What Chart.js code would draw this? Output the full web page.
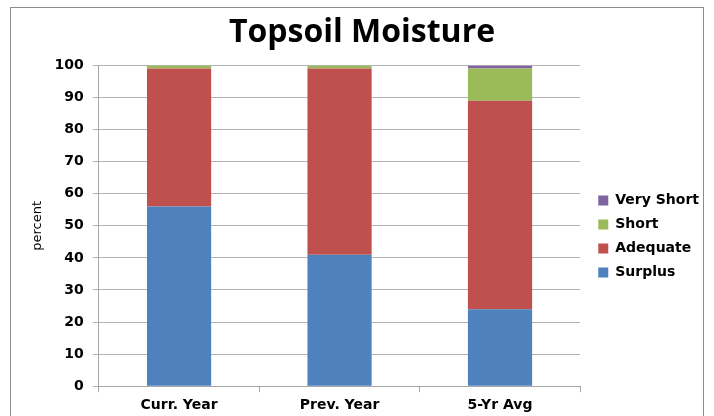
<!DOCTYPE html>
<html>
<head>
<meta charset="utf-8">
<script src="https://cdn.jsdelivr.net/npm/chart.js@4"></script>
<style>
  body { margin: 0; background: #fff; overflow: hidden; }
  #frame { position: absolute; left: 10px; top: 7px; width: 692px; height: 411px; border: 1px solid #8c8c8c; }
</style>
</head>
<body>
<div id="frame"><canvas id="moistureChart" width="692" height="411"></canvas></div>
<script>
// Topsoil moisture, percent of area
var categories = ['Curr. Year', 'Prev. Year', '5-Yr Avg'];
var surplus = [56, 41, 24];
var adequate = [43, 58, 65];
var short = [1, 1, 10];
var veryShort = [0, 0, 1];
var yTicks = [0, 10, 20, 30, 40, 50, 60, 70, 80, 90, 100];

var labelFont = 'DejaVu Sans';

// push the legend a little right and down, like the original
var legendNudge = {
    id: 'legendNudge',
    afterLayout: function (chart) {
        var l = chart.legend;
        l.left += 8; l.right += 8;
        l.top += 23; l.bottom += 23;
    }
};

var moistureChart = new Chart(document.getElementById('moistureChart').getContext('2d'), {
    type: 'bar',
    data: {
        labels: categories,
        datasets: [{
            label: 'Surplus',
            data: surplus,
            backgroundColor: '#4F81BD'
        }, {
            label: 'Adequate',
            data: adequate,
            backgroundColor: '#C0504D'
        }, {
            label: 'Short',
            data: short,
            backgroundColor: '#9BBB59'
        }, {
            label: 'Very Short',
            data: veryShort,
            backgroundColor: '#8064A2'
        }]
    },
    plugins: [legendNudge],
    options: {
        responsive: false,
        animation: false,
        barPercentage: 0.4,
        categoryPercentage: 1,
        layout: { padding: { left: 12, right: 2, top: 0, bottom: 0 } },
        plugins: {
            title: {
                display: true,
                text: 'Topsoil Moisture',
                color: '#000',
                font: { family: 'Open Sans', size: 32, weight: 'bold' },
                padding: { top: 6, bottom: 13 }
            },
            legend: {
                position: 'right',
                reverse: true,
                labels: {
                    color: '#000',
                    boxWidth: 10,
                    boxHeight: 10,
                    padding: 10,
                    font: { family: labelFont, size: 14, weight: 'bold' }
                }
            },
            tooltip: { enabled: false }
        },
        scales: {
            x: {
                stacked: true,
                grid: { display: true, drawOnChartArea: false, offset: true, tickLength: 6, color: '#a6a6a6' },
                border: { color: '#a6a6a6' },
                ticks: { color: '#000', font: { family: labelFont, size: 14, weight: 'bold' }, padding: 5 }
            },
            y: {
                stacked: true,
                min: 0,
                max: 100,
                afterBuildTicks: function (axis) {
                    axis.ticks = yTicks.map(function (v) { return { value: v }; });
                },
                grid: { color: '#b4b4b4', tickLength: 6 },
                border: { color: '#a6a6a6' },
                ticks: { color: '#000', font: { family: labelFont, size: 14, weight: 'bold' }, padding: 9 },
                title: {
                    display: true,
                    text: 'percent',
                    color: '#000',
                    font: { family: labelFont, size: 13 },
                    padding: { top: 7, bottom: 0 }
                }
            }
        }
    }
});
</script>
</body>
</html>
